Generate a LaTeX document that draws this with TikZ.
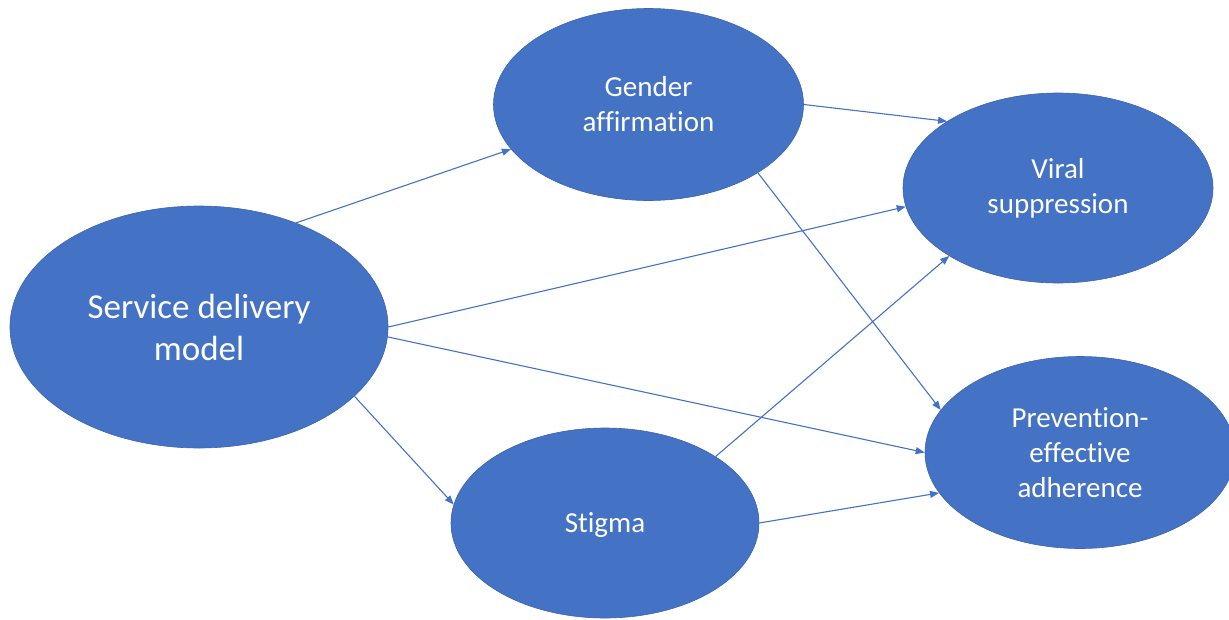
\documentclass[tikz,border=0pt]{standalone}
\usepackage{fontspec}
\setmainfont{Carlito}[Ligatures=NoCommon]
\usetikzlibrary{shapes.geometric,arrows.meta}
\definecolor{nodeblue}{HTML}{4472C4}
\definecolor{nodeedge}{HTML}{3B64AE}
\definecolor{linkblue}{HTML}{4472C4}
\tikzset{
  oval/.style={ellipse, fill=nodeblue, draw=nodeedge, line width=0.6pt,
    text=white, align=center, inner sep=0pt,
    font=\fontsize{29}{35}\selectfont},
  bigoval/.style={oval, font=\fontsize{35}{42}\selectfont},
  link/.style={draw=linkblue, line width=1.1pt,
    -{Triangle[length=9pt,width=7pt]}}
}
\begin{document}
\begin{tikzpicture}[x=1pt,y=-1pt]
\useasboundingbox (0,0) rectangle (1229,619);
\node[bigoval, minimum width=378pt, minimum height=242pt] (sdm) at (199,327) {Service delivery\\model};
\node[oval, minimum width=310pt, minimum height=192pt] (gen) at (648.5,104.5) {Gender\\affirmation};
\node[oval, minimum width=310pt, minimum height=190pt] (vir) at (1058,188) {Viral\\suppression};
\node[oval, minimum width=310pt, minimum height=192pt] (prev) at (1080,452.5) {Prevention-\\effective\\adherence};
\node[oval, minimum width=308pt, minimum height=190pt] (stig) at (605,523) {\raisebox{-9pt}[0pt][0pt]{Stigma}};

\draw[link] (sdm.47) -- (gen.198);
\draw[link] (sdm.0) -- (vir.187);
\draw[link] (sdm.-3.6) -- (prev.180);
\draw[link] (sdm.-24.4) -- (stig.173.7);
\draw[link] (gen.0) -- (vir.149);
\draw[link] (gen.-32.8) -- (prev.163.8);
\draw[link] (stig.31) -- (vir.212.6);
\draw[link] (stig.0) -- (prev.196.7);
\end{tikzpicture}
\end{document}
